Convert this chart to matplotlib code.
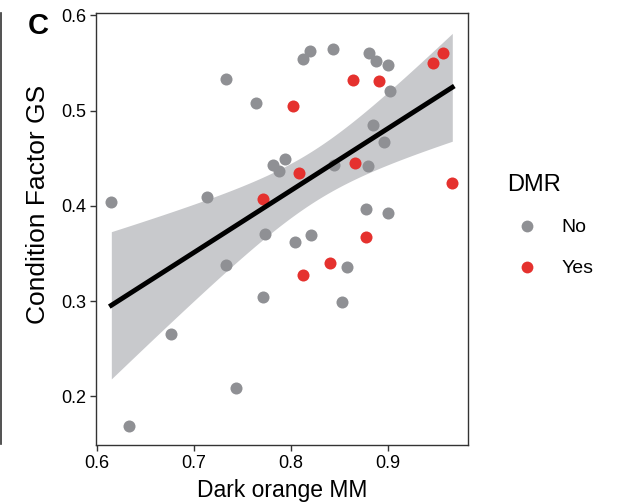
import numpy as np
import matplotlib
matplotlib.use('Agg')
import matplotlib.pyplot as plt
from matplotlib.lines import Line2D

plt.rcParams['font.family'] = ['Liberation Sans', 'DejaVu Sans']

# grey points (DMR = No)
no_x = [0.615, 0.633, 0.676, 0.714, 0.733, 0.733, 0.743, 0.764, 0.771, 0.773,
        0.781, 0.788, 0.794, 0.804, 0.812, 0.820, 0.821, 0.843, 0.844, 0.852,
        0.858, 0.880, 0.887, 0.900, 0.902, 0.884, 0.879, 0.896, 0.877, 0.900]
no_y = [0.404, 0.169, 0.266, 0.409, 0.533, 0.338, 0.209, 0.508, 0.304, 0.371,
        0.443, 0.437, 0.449, 0.362, 0.554, 0.563, 0.370, 0.565, 0.443, 0.299,
        0.336, 0.561, 0.552, 0.548, 0.521, 0.485, 0.442, 0.467, 0.397, 0.393]

# red points (DMR = Yes)
yes_x = [0.802, 0.808, 0.771, 0.864, 0.891, 0.946, 0.956, 0.866, 0.966, 0.877,
         0.840, 0.812]
yes_y = [0.505, 0.435, 0.407, 0.532, 0.531, 0.550, 0.561, 0.445, 0.424, 0.367,
         0.340, 0.328]

xticks = [0.6, 0.7, 0.8, 0.9]
yticks = [0.2, 0.3, 0.4, 0.5, 0.6]

GREY = '#8f9094'
RED = '#e5312e'

x_all = np.array(no_x + yes_x)
y_all = np.array(no_y + yes_y)

# linear fit with 95% confidence band
n = len(x_all)
b, a = np.polyfit(x_all, y_all, 1)
xs = np.linspace(x_all.min(), x_all.max(), 100)
ys = a + b * xs
resid = y_all - (a + b * x_all)
s = np.sqrt(np.sum(resid ** 2) / (n - 2))
sxx = np.sum((x_all - x_all.mean()) ** 2)
se = s * np.sqrt(1 / n + (xs - x_all.mean()) ** 2 / sxx)
t = 2.02
lo = ys - t * se
hi = ys + t * se

fig = plt.figure(figsize=(6.18, 5.04), dpi=100)
ax = fig.add_axes([0.155, 0.117, 0.602, 0.857])

ax.fill_between(xs, lo, hi, color='#c8c9cc', lw=0, zorder=1)
ax.scatter(no_x, no_y, s=75, color=GREY, lw=0, zorder=2)
ax.scatter(yes_x, yes_y, s=75, color=RED, lw=0, zorder=2)
ax.plot(xs, ys, color='black', lw=3.5, zorder=3)

ax.set_xlim(0.599, 0.982)
ax.set_ylim(0.149, 0.6025)
ax.set_xticks(xticks)
ax.set_xticklabels(['0.6', '0.7', '0.8', '0.9'])
ax.set_yticks(yticks)
ax.set_yticklabels(['0.2', '0.3', '0.4', '0.5', '0.6'])
ax.tick_params(labelsize=13, length=4, width=1, color='#333333', pad=3)
for sp in ax.spines.values():
    sp.set_color('#333333')
    sp.set_linewidth(1)

ax.set_xlabel('Dark orange MM', fontsize=16.5, labelpad=5)
ax.set_ylabel('Condition Factor GS', fontsize=19)
ax.yaxis.set_label_coords(-0.122, 0.556)

handles = [
    Line2D([], [], marker='o', ls='', ms=8.5, mfc=GREY, mec='none'),
    Line2D([], [], marker='o', ls='', ms=8.5, mfc=RED, mec='none'),
]
leg = fig.legend(handles, ['No', 'Yes'], title='DMR', loc='upper left',
                 bbox_to_anchor=(0.805, 0.675), frameon=False, fontsize=14,
                 title_fontsize=17, handlelength=2.0, handletextpad=0.8,
                 labelspacing=1.2, borderpad=0, alignment='left')

fig.text(0.062, 0.948, 'C', fontsize=21, fontweight='bold', ha='center', va='center')
fig.add_artist(Line2D([0.002, 0.002], [0.12, 0.974], color='#333333', lw=1.2,
                      transform=fig.transFigure))

fig.savefig('out.png', dpi=100)
